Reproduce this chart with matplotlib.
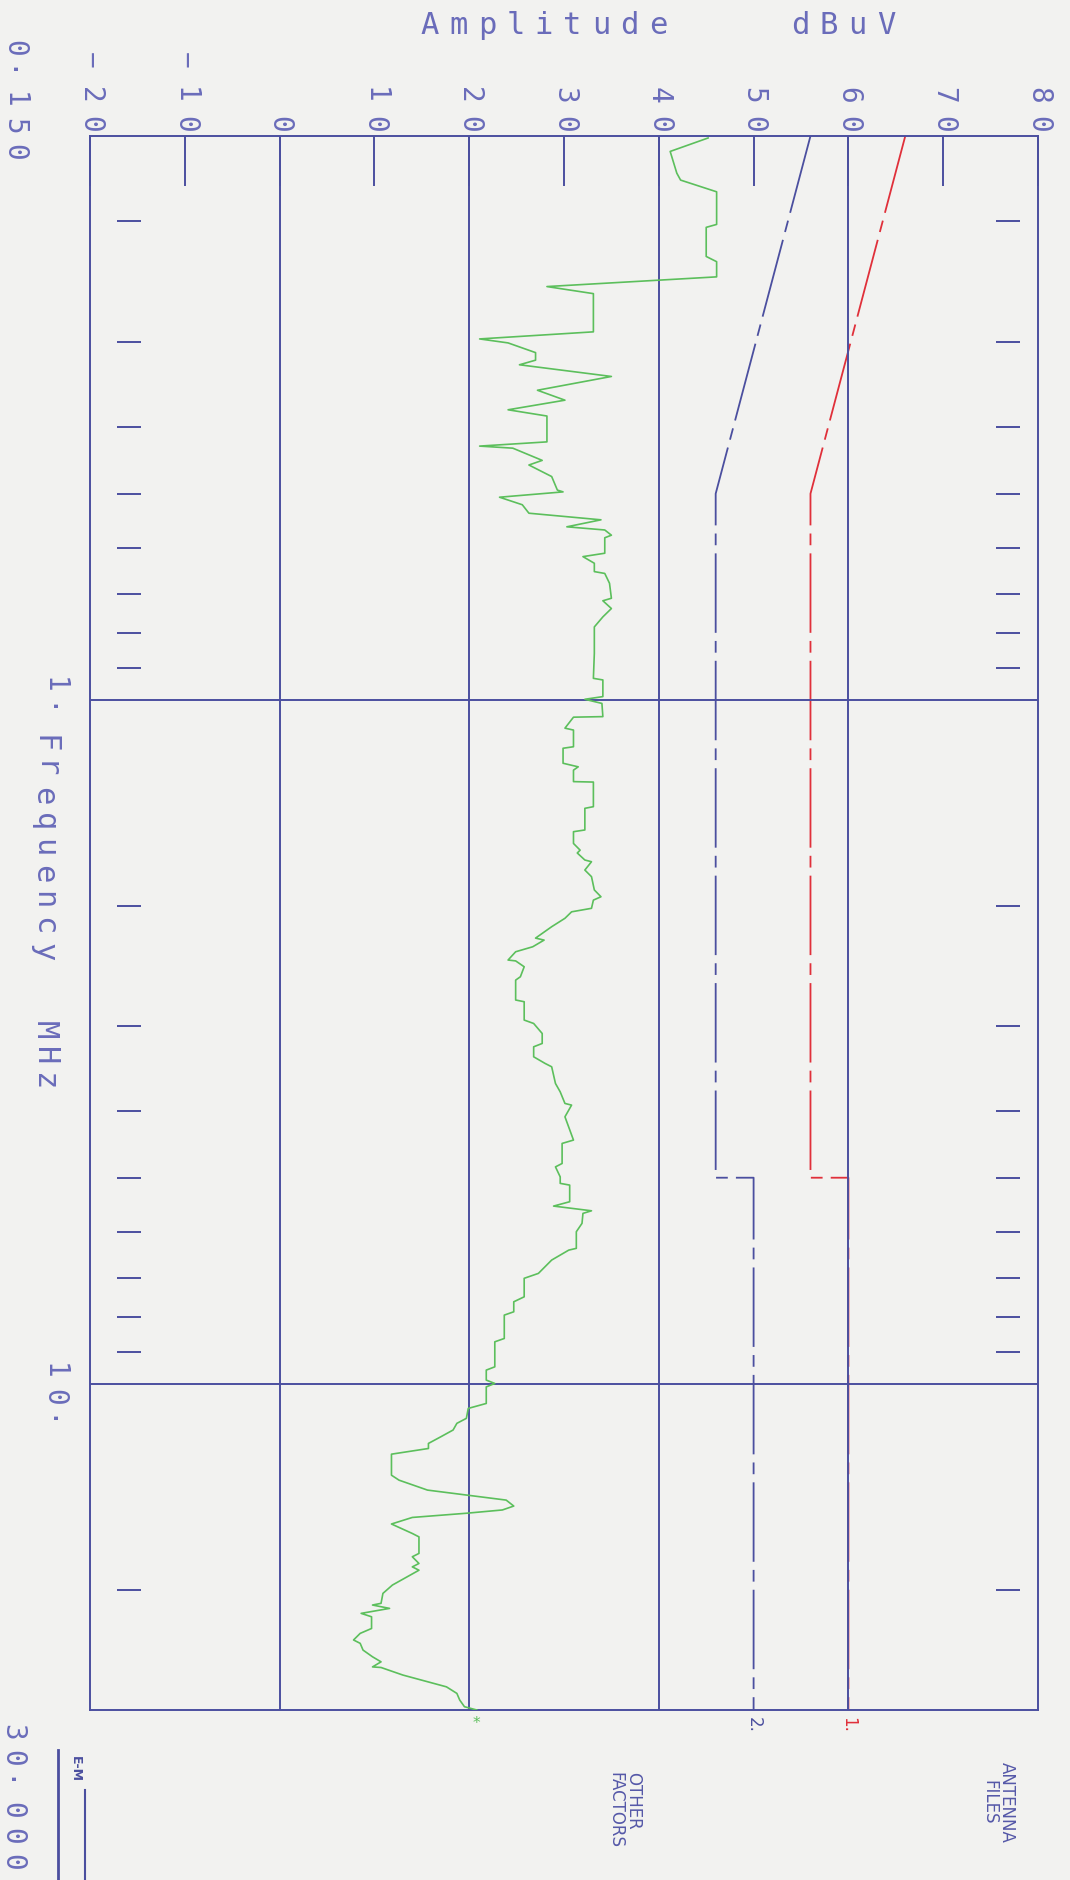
"""
Conducted emission scan, 0.15-30 MHz, redrawn from a rotated pen-plotter sheet.
Frequency runs down the page, amplitude across it.
"""

import matplotlib
matplotlib.use('Agg')
from matplotlib import pyplot as plt
from matplotlib.lines import Line2D
from matplotlib.transforms import IdentityTransform, blended_transform_factory

PAPER = '#f2f2f0'
NAVY = '#4b4f9f'
INK = '#6a6cba'
GREEN = '#5cbf5c'
RED = '#e0303a'
PEN_FONT = 'DejaVu Sans Mono'

# axes
amp_ticks = list(range(-20, 81, 10))
amp_grid = [0, 20, 40, 60]
freq_grid = [1.0, 10.0]
freq_minor = [0.2, 0.3, 0.4, 0.5, 0.6, 0.7, 0.8, 0.9,
              2, 3, 4, 5, 6, 7, 8, 9, 20]
freq_labels = ['0.150', '1.', '10.', '30.000']
freq_label_vals = [0.15, 1.0, 10.0, 30.0]

# limit lines (1. = quasi-peak, 2. = average)
qp_freq = [0.15, 0.5, 5.0, 5.0, 30.0]
qp_dbuv = [66, 56, 56, 60, 60]
avg_freq = [0.15, 0.5, 5.0, 5.0, 30.0]
avg_dbuv = [56, 46, 46, 50, 50]

# measured trace
scan_freq = [
    0.151, 0.158, 0.170, 0.174, 0.181, 0.202, 0.204, 0.225, 0.229, 0.241,
    0.249, 0.255, 0.290, 0.297, 0.301, 0.311, 0.319, 0.324, 0.337, 0.353,
    0.365, 0.377, 0.385, 0.420, 0.426, 0.429, 0.447, 0.454, 0.472, 0.494,
    0.497, 0.506, 0.519, 0.534, 0.546, 0.559, 0.565, 0.575, 0.580, 0.611,
    0.618, 0.632, 0.650, 0.654, 0.676, 0.711, 0.717, 0.736, 0.757, 0.783,
    0.856, 0.931, 0.936, 0.990, 0.999, 1.013, 1.059, 1.061, 1.101, 1.108,
    1.172, 1.178, 1.239, 1.254, 1.268, 1.318, 1.320, 1.434, 1.442, 1.551,
    1.560, 1.623, 1.660, 1.676, 1.716, 1.726, 1.775, 1.815, 1.898, 1.942,
    1.964, 2.019, 2.043, 2.088, 2.148, 2.232, 2.247, 2.298, 2.337, 2.403,
    2.410, 2.458, 2.542, 2.571, 2.749, 2.765, 2.941, 2.975, 3.077, 3.182,
    3.218, 3.328, 3.403, 3.442, 3.641, 3.745, 3.894, 3.916, 4.073, 4.405,
    4.455, 4.766, 4.821, 4.986, 5.096, 5.126, 5.421, 5.501, 5.589, 5.638,
    5.830, 5.997, 6.342, 6.380, 6.597, 6.900, 7.015, 7.466, 7.592, 7.852,
    7.940, 8.590, 8.687, 9.450, 9.555, 9.882, 9.994, 10.11, 10.69, 10.87,
    11.24, 11.43, 11.69, 11.96, 12.23, 12.44, 12.68, 13.61, 13.84, 14.31,
    14.55, 14.80, 15.10, 15.30, 15.47, 15.69, 16.04, 16.56, 16.75, 17.71,
    17.91, 18.32, 18.53, 18.74, 19.70, 20.26, 20.95, 21.07, 21.31, 21.67,
    21.92, 22.80, 23.18, 23.70, 23.97, 24.52, 25.08, 25.51, 25.95, 26.00,
    26.67, 27.28, 27.75, 28.37, 29.01, 29.67, 30.0]
scan_dbuv = [
    45.2, 41.2, 41.9, 42.3, 46.1, 46.1, 45.0, 45.0, 46.1, 46.1,
    28.2, 33.1, 33.1, 21.1, 24.1, 27.0, 27.0, 25.3, 35.0, 27.2,
    30.1, 24.1, 28.2, 28.2, 21.1, 24.6, 27.7, 26.3, 28.7, 29.3,
    29.9, 23.2, 25.6, 26.3, 33.9, 30.3, 34.3, 35.0, 34.3, 34.3,
    32.0, 33.2, 33.2, 34.3, 34.8, 35.0, 34.1, 35.0, 34.1, 33.2,
    33.2, 33.1, 34.1, 34.1, 32.2, 34.0, 34.1, 31.0, 30.1, 31.0,
    31.0, 29.9, 29.9, 31.5, 31.0, 31.0, 33.1, 33.1, 32.2, 32.2,
    31.0, 31.0, 31.7, 31.4, 32.2, 32.9, 32.2, 32.9, 33.2, 33.9,
    33.1, 32.9, 30.8, 30.1, 28.7, 27.0, 27.9, 26.7, 24.9, 24.1,
    24.9, 25.8, 25.4, 24.9, 24.9, 25.8, 25.8, 26.8, 27.7, 27.7,
    26.8, 26.8, 28.0, 28.7, 29.1, 29.6, 30.1, 30.8, 30.1, 31.0,
    29.8, 29.8, 29.1, 29.6, 29.6, 30.6, 30.6, 28.9, 32.9, 32.0,
    31.9, 31.3, 31.3, 30.5, 28.7, 27.3, 25.8, 25.8, 24.7, 24.7,
    23.7, 23.7, 22.7, 22.7, 21.8, 21.8, 22.7, 21.8, 21.8, 19.9,
    19.7, 18.7, 18.3, 17.0, 15.7, 15.7, 11.8, 11.8, 12.6, 15.6,
    19.7, 23.9, 24.7, 23.5, 19.7, 14.0, 11.8, 14.0, 14.7, 14.7,
    14.0, 14.7, 14.0, 14.7, 11.9, 10.9, 10.7, 9.8, 11.6, 8.6,
    9.7, 9.7, 8.5, 7.8, 8.5, 8.8, 9.8, 10.7, 9.8, 10.7,
    13.0, 15.6, 17.6, 18.7, 19.0, 19.5, 20.8]

W, H = 1070, 1880
fig = plt.figure(figsize=(W / 100, H / 100), dpi=100, facecolor=PAPER)
ax = fig.add_axes([90 / W, 170 / H, 948 / W, 1574 / H])
ax.set_facecolor(PAPER)
ax.set_yscale('log')

limit_dash = (0, (44, 4.5, 6.5, 4.5))
ax.plot(qp_dbuv, qp_freq, color=RED, lw=1.3, linestyle=limit_dash, zorder=1.5)
ax.plot(avg_dbuv, avg_freq, color=NAVY, lw=1.3, linestyle=limit_dash,
        zorder=2.5)

for a in amp_grid:
    ax.axvline(a, color=NAVY, lw=1.4, zorder=2)
for f in freq_grid:
    ax.axhline(f, color=NAVY, lw=1.4, zorder=2)

# short frequency ticks, set in from both frame edges as the plotter drew them
tr = blended_transform_factory(ax.transAxes, ax.transData)
ax.hlines(freq_minor, 0.029, 0.054, transform=tr, color=NAVY, lw=1.4)
ax.hlines(freq_minor, 0.956, 0.981, transform=tr, color=NAVY, lw=1.4)

ax.plot(scan_dbuv, scan_freq, color=GREEN, lw=1.2, zorder=3)

ax.set_xlim(-20, 80)
ax.set_ylim(30, 0.15)
ax.set_xticks(amp_ticks)
ax.tick_params(axis='x', which='both', bottom=False, labelbottom=False,
               top=True, labeltop=False, direction='in', length=36,
               width=1.4, color=NAVY)
ax.tick_params(axis='y', which='both', left=False, right=False,
               labelleft=False, labelright=False)
for sp in ax.spines.values():
    sp.set_color(NAVY)
    sp.set_linewidth(1.4)


def pen_text(x, y, s, pitch, vertical=False, size=20, color=INK):
    """Fixed-pitch lettering in display pixels; x, y is the first character."""
    for i, ch in enumerate(s):
        if ch == ' ':
            continue
        if vertical:
            pos, rot = (x, y - i * pitch), -90
        else:
            pos, rot = (x + i * pitch, y), 0
        fig.text(pos[0], pos[1], ch, transform=IdentityTransform(),
                 rotation=rot, ha='center', va='center', family=PEN_FONT,
                 fontsize=size, color=color)


top = ax.bbox.y1
left = ax.bbox.x0

# amplitude labels, reading downwards and ending at the frame
for v in amp_ticks:
    px = ax.transData.transform((v, 1.0))[0]
    digits = str(abs(v))
    n = len(digits)
    pen_text(px, top + 12 + (n - 1) * 29, digits, 29, vertical=True)
    if v < 0:
        pen_text(px, top + 12 + n * 29 + 6, '\u2212', 29, vertical=True)

pen_text(430, H - 26, 'Amplitude    dBuV', 28.5, size=22)

# frequency labels
freq_x = [14, 54, 54, 12]
freq_shift = [88, 14, 12, -22]
for lab, f, fx, sh in zip(freq_labels, freq_label_vals, freq_x, freq_shift):
    py = ax.transData.transform((0, f))[1]
    pen_text(fx, py + sh, lab, 26, vertical=True)

pen_text(left - 46, H - 744, 'Frequency  MHz', 26, vertical=True, size=22)

# trace and limit markers under the frame
ax.annotate('*', (scan_dbuv[-1], 30.0), xytext=(0, -4),
            textcoords='offset points', ha='center', va='top',
            color=GREEN, fontsize=11, annotation_clip=False)
ax.annotate('2.', (avg_dbuv[-1], 30.0), xytext=(0, -5),
            textcoords='offset points', ha='center', va='top', rotation=-90,
            color=NAVY, fontsize=12, annotation_clip=False)
ax.annotate('1.', (qp_dbuv[-1], 30.0), xytext=(0, -5),
            textcoords='offset points', ha='center', va='top', rotation=-90,
            color=RED, fontsize=12, annotation_clip=False)

fig.text(624, H - 1772, 'OTHER\nFACTORS', transform=IdentityTransform(),
         rotation=-90, ha='center', va='top', multialignment='left',
         fontsize=12, color='#5558a8', linespacing=1.0)
fig.text(998, H - 1762, 'ANTENNA\nFILES', transform=IdentityTransform(),
         rotation=-90, ha='center', va='top', multialignment='center',
         fontsize=12, color='#5558a8', linespacing=1.0)

# E-M badge in the corner
fig.text(75, H - 1769, 'E-M', transform=IdentityTransform(), rotation=-90,
         ha='center', va='center', fontsize=9, weight='bold', color=NAVY)
fig.add_artist(Line2D([58, 58], [H - 1750, 0], transform=IdentityTransform(),
                      color=NAVY, lw=2.0))
fig.add_artist(Line2D([85, 85], [H - 1790, 0], transform=IdentityTransform(),
                      color=NAVY, lw=1.5))

fig.savefig('out.png', dpi=100, facecolor=PAPER)
